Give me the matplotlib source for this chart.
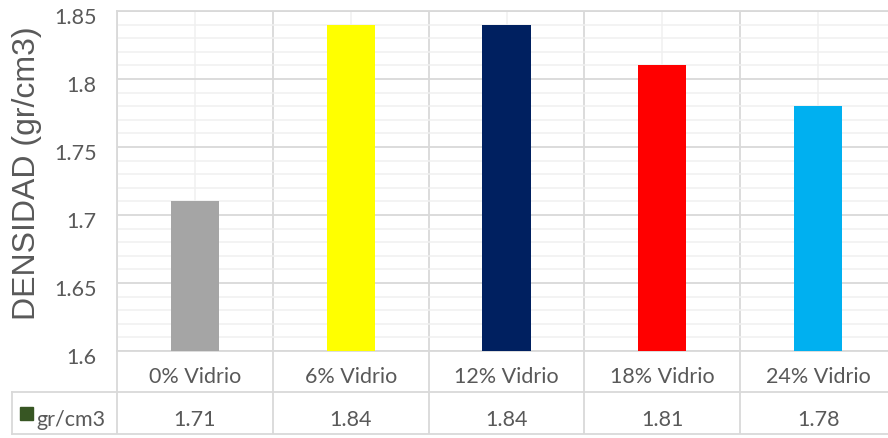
import matplotlib.pyplot as plt
from matplotlib.patches import Rectangle
from matplotlib.transforms import ScaledTranslation, blended_transform_factory

categories = ["0% Vidrio", "6% Vidrio", "12% Vidrio", "18% Vidrio", "24% Vidrio"]
densities = [1.71, 1.84, 1.84, 1.81, 1.78]
bar_colors = ["#A5A5A5", "#FFFF00", "#002060", "#FF0000", "#00B0F0"]
y_ticks = [1.6, 1.65, 1.7, 1.75, 1.8, 1.85]
y_tick_labels = ["1.6", "1.65", "1.7", "1.75", "1.8", "1.85"]
series_name = "gr/cm3"
series_color = "#375623"

TEXT = "#595959"
MAJOR = "#D9D9D9"
MINOR = "#F0F0F0"
TICK_FONT = "Lato"
FS = 15.5


def main_function():
    fig = plt.figure(figsize=(8.88, 4.38), dpi=100)
    ax = fig.add_axes([117 / 888, 87 / 438, 779 / 888, 340 / 438])

    x = range(len(categories))
    ax.bar(x, densities, width=0.31, color=bar_colors, zorder=3)

    ax.set_xlim(-0.5, len(categories) - 0.5)
    ax.set_ylim(y_ticks[0], y_ticks[-1])

    # gridlines: major every 0.05, minor every 0.01; vertical at category edges/centres
    ax.set_yticks(y_ticks)
    ax.set_yticks([round(1.6 + 0.01 * i, 2) for i in range(26)], minor=True)
    ax.set_xticks([i - 0.5 for i in range(len(categories) + 1)])
    ax.set_xticks(list(x), minor=True)
    ax.grid(which="minor", color=MINOR, linewidth=1.1, zorder=0)
    ax.grid(which="major", color=MAJOR, linewidth=1.3, zorder=1)
    ax.tick_params(which="both", length=0, labelleft=False, labelbottom=False)
    for side in ["left", "top", "bottom", "right"]:
        ax.spines[side].set_color(MAJOR)
        ax.spines[side].set_linewidth(1.3)

    # y tick labels sit a little below their gridline
    shift = ScaledTranslation(0, -0.07, fig.dpi_scale_trans)
    ytrans = ax.get_yaxis_transform() + shift
    for v, lbl in zip(y_ticks, y_tick_labels):
        ax.text(-0.026, v, lbl, transform=ytrans, ha="right", va="center",
                fontsize=FS, color=TEXT, family=TICK_FONT)

    ax.set_ylabel("DENSIDAD (gr/cm3)", fontsize=23, color=TEXT,
                  family="Liberation Sans", labelpad=0)
    ax.yaxis.set_label_coords(-0.096, 0.522)

    # data table under the plot
    tr = blended_transform_factory(ax.transData, ax.transAxes)
    row2 = -0.242
    for i, (cat, val) in enumerate(zip(categories, densities)):
        ax.text(i, -0.077, cat, transform=tr, ha="center", va="center",
                fontsize=FS, color=TEXT, family=TICK_FONT, clip_on=False)
        ax.text(i, -0.203, f"{val:.2f}", transform=tr, ha="center", va="center",
                fontsize=FS, color=TEXT, family=TICK_FONT, clip_on=False)
    for i in range(len(categories) + 1):
        ax.plot([i - 0.5, i - 0.5], [0, row2], transform=tr, color=MAJOR,
                lw=1.3, clip_on=False)

    left = 12 / 888
    fig.add_artist(plt.Line2D([left, 1], [(438 - 391.5) / 438] * 2,
                              color=MAJOR, lw=1.3))
    fig.add_artist(plt.Line2D([left, 1], [(438 - 434) / 438] * 2,
                              color=MAJOR, lw=1.3))
    fig.add_artist(plt.Line2D([left, left], [(438 - 391.5) / 438, (438 - 434) / 438],
                              color=MAJOR, lw=1.3))
    fig.add_artist(Rectangle((20 / 888, (438 - 420) / 438), 13 / 888, 13 / 438,
                             transform=fig.transFigure, color=series_color))
    fig.text(36 / 888, (438 - 420) / 438, series_name, ha="left", va="center",
             fontsize=FS, color=TEXT, family=TICK_FONT)

    fig.savefig("out.png", dpi=100)


if __name__ == '__main__':
    main_function()
